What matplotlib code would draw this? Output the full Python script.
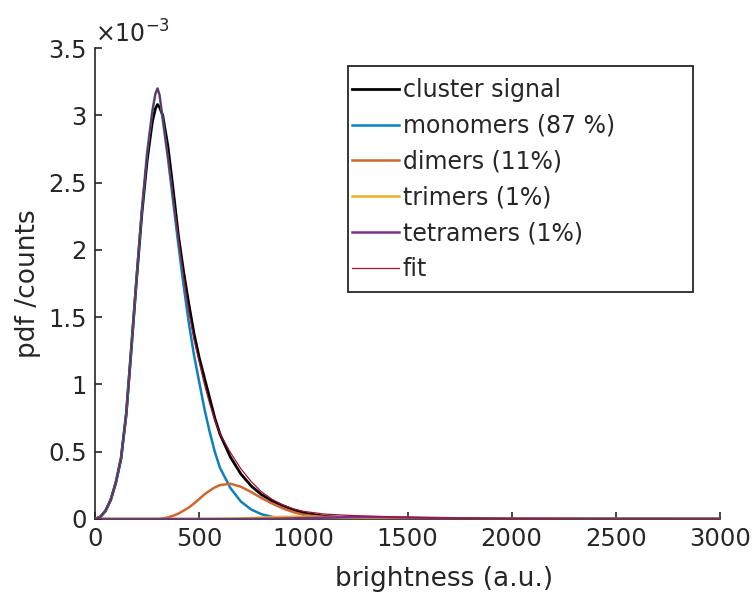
import numpy as np
import matplotlib
matplotlib.use("Agg")
import matplotlib.pyplot as plt
from matplotlib.patches import Rectangle

# ---------------- data (pdf values in units of 1e-3) ----------------
brightness = [0, 25, 50, 75, 100, 125, 150, 175, 200, 225, 250, 275, 290, 300, 310, 325, 350,
              375, 400, 425, 450, 475, 500, 525, 550, 575, 600, 650, 700, 750, 800,
              850, 900, 950, 1000, 1100, 1200, 1300, 1400, 1500, 1750, 2000, 2500, 3000]

cluster_signal = [0, 0.015, 0.06, 0.14, 0.27, 0.45, 0.78, 1.28, 1.79, 2.27, 2.66, 2.95, 3.05, 3.08, 3.06, 3.00, 2.77,
                  2.45, 2.11, 1.84, 1.60, 1.38, 1.20, 1.05, 0.90, 0.75, 0.63, 0.46, 0.335, 0.245, 0.18,
                  0.135, 0.10, 0.07, 0.045, 0.02, 0.01, 0.005, 0.003, 0.002, 0.001, 0, 0, 0]

monomers = [0, 0.015, 0.06, 0.14, 0.27, 0.45, 0.78, 1.28, 1.80, 2.30, 2.72, 3.03, 3.16, 3.20, 3.15, 2.97, 2.68,
            2.36, 2.04, 1.74, 1.46, 1.22, 1.02, 0.82, 0.65, 0.50, 0.38, 0.23, 0.13, 0.07, 0.035,
            0.016, 0.006, 0.002, 0.001, 0, 0, 0, 0, 0, 0, 0, 0, 0]

dimers = [0, 0, 0, 0, 0, 0, 0, 0, 0, 0, 0, 0, 0, 0, 0, 0.004, 0.012,
          0.024, 0.04, 0.062, 0.085, 0.115, 0.148, 0.183, 0.21, 0.235, 0.252, 0.262, 0.24, 0.20, 0.155,
          0.115, 0.08, 0.052, 0.032, 0.012, 0.004, 0.0015, 0.0005, 0, 0, 0, 0, 0]

trimers = [0, 0, 0, 0, 0, 0, 0, 0, 0, 0, 0, 0, 0, 0, 0, 0, 0,
           0, 0, 0, 0, 0, 0, 0, 0.0005, 0.0008, 0.001, 0.002, 0.004, 0.007, 0.010,
           0.013, 0.016, 0.017, 0.017, 0.015, 0.011, 0.007, 0.004, 0.002, 0.0005, 0, 0, 0]

tetramers = [0, 0, 0, 0, 0, 0, 0, 0, 0, 0, 0, 0, 0, 0, 0, 0, 0,
             0, 0, 0, 0, 0, 0, 0, 0, 0, 0, 0, 0, 0.0005, 0.001,
             0.002, 0.003, 0.005, 0.007, 0.010, 0.013, 0.014, 0.013, 0.011, 0.005, 0.002, 0.0002, 0]

labels = ["cluster signal", "monomers (87 %)", "dimers (11%)", "trimers (1%)",
          "tetramers (1%)", "fit"]

x_ticks = [0, 500, 1000, 1500, 2000, 2500, 3000]
y_ticks = [0, 0.5, 1, 1.5, 2, 2.5, 3, 3.5]
y_ticklabels = ['0', '0.5', '1', '1.5', '2', '2.5', '3', '3.5']

fit = (np.array(monomers) + np.array(dimers) + np.array(trimers) + np.array(tetramers))

# ---------------- style ----------------
plt.rcParams['font.family'] = ['DejaVu Sans']
plt.rcParams['mathtext.fontset'] = 'dejavusans'
axc = '#262626'

fig = plt.figure(figsize=(7.54, 6.06), dpi=100)
ax = fig.add_axes([95 / 754, 87 / 606, 625 / 754, 471 / 606])

ax.plot(brightness, cluster_signal, color='black', lw=2.0, label=labels[0], zorder=3,
        solid_joinstyle='round')
ax.plot(brightness, monomers, color=(0.05, 0.50, 0.74), lw=1.8, label=labels[1], zorder=3,
        solid_joinstyle='round')
ax.plot(brightness, dimers, color=(0.82, 0.40, 0.18), lw=1.8, label=labels[2], zorder=3,
        solid_joinstyle='round')
ax.plot(brightness, trimers, color=(0.929, 0.694, 0.125), lw=1.8, label=labels[3], zorder=3,
        solid_joinstyle='round')
ax.plot(brightness, tetramers, color=(0.494, 0.184, 0.556), lw=1.8, label=labels[4], zorder=3,
        solid_joinstyle='round')
ax.plot(brightness, fit, color=(0.635, 0.078, 0.184), lw=0.9, label=labels[5], zorder=4,
        solid_joinstyle='round')

ax.set_xlim(0, 3000)
ax.set_ylim(0, 3.5)
ax.set_xticks(x_ticks)
ax.set_yticks(y_ticks)
ax.set_yticklabels(y_ticklabels)

for s in ['top', 'right']:
    ax.spines[s].set_visible(False)
for s in ['left', 'bottom']:
    ax.spines[s].set_linewidth(1.2)
    ax.spines[s].set_color(axc)
    ax.spines[s].set_zorder(2)

ax.tick_params(direction='in', length=5, width=1.2, colors=axc, labelsize=17.5, pad=6)

ax.set_xlabel('brightness (a.u.)', fontsize=19, color=axc)
ax.set_ylabel('pdf /counts', fontsize=19, color=axc)
ax.xaxis.set_label_coords((444 - 95) / 625, -0.10)
ax.yaxis.set_label_coords(-0.087, 0.5)

ax.text(0.0, 1.0, r'$\times10^{-3}$', transform=ax.transAxes, fontsize=17,
        color=axc, ha='left', va='bottom')

# legend box (frame drawn separately to match its size)
bx0 = (348 - 95) / 625
bx1 = (693 - 95) / 625
by1 = (519 - 66) / 471
by0 = (519 - 292) / 471
ax.add_patch(Rectangle((bx0, by0), bx1 - bx0, by1 - by0, transform=ax.transAxes,
                       facecolor='white', edgecolor=axc, lw=1.3, zorder=5))
leg = ax.legend(loc='upper left', bbox_to_anchor=((352 - 95) / 625, (519 - 78) / 471),
                borderaxespad=0, borderpad=0, fontsize=17, handlelength=2.0,
                handletextpad=0.15, labelspacing=0.5, frameon=False)
leg.set_zorder(6)
for t in leg.get_texts():
    t.set_color(axc)

fig.savefig('out.png', dpi=100, facecolor='white')
